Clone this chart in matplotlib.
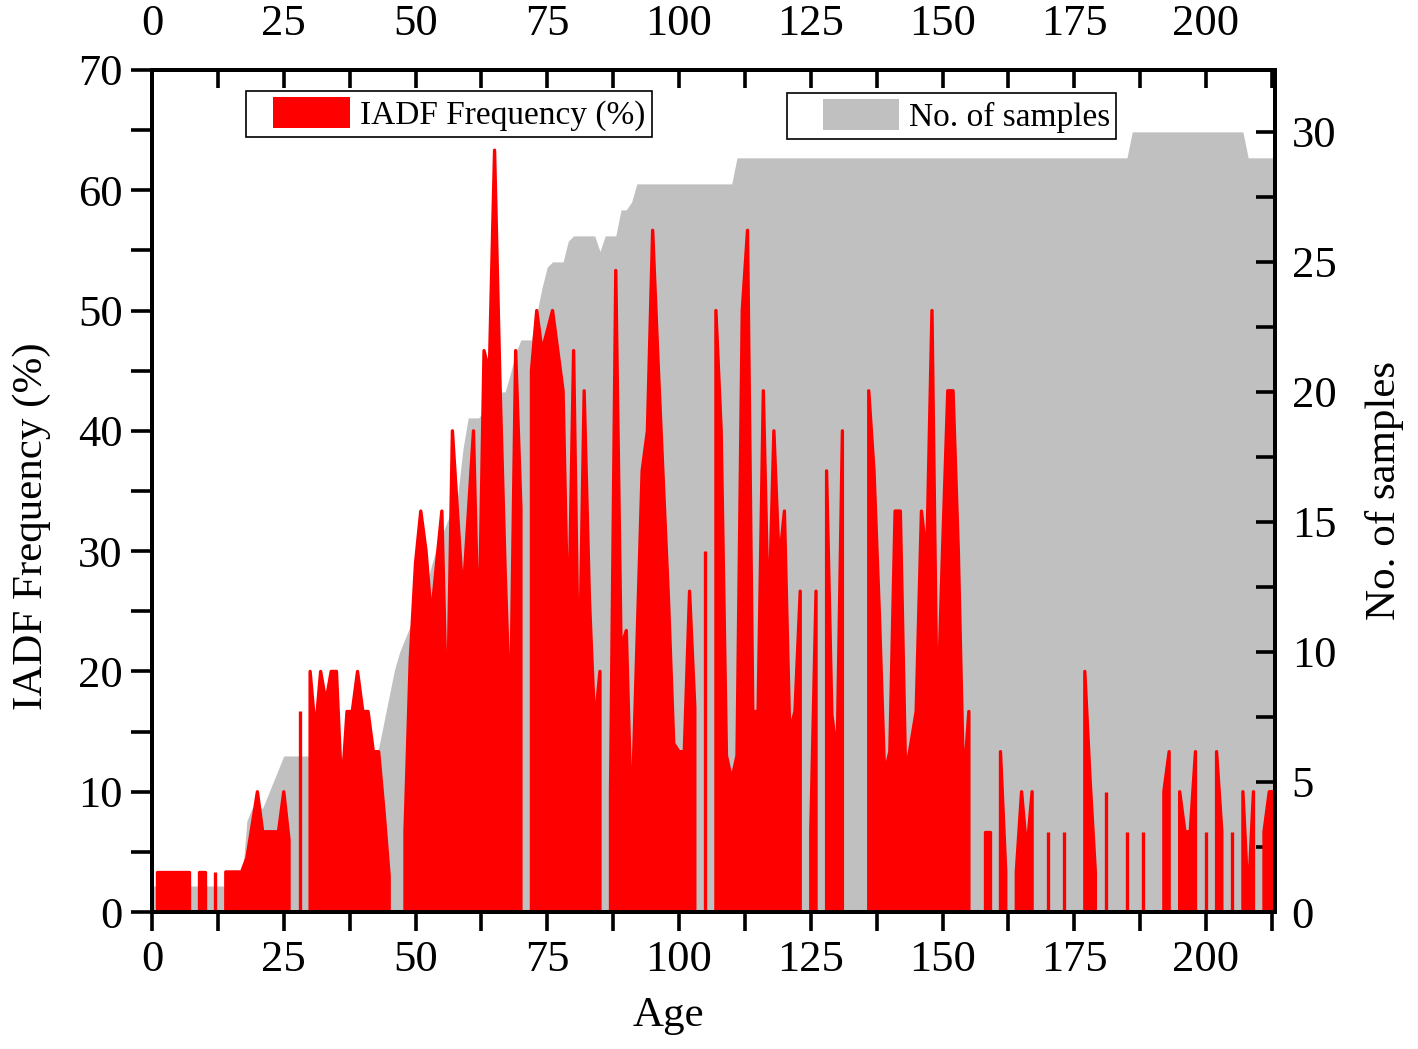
import numpy as np
import matplotlib
matplotlib.use("Agg")
import matplotlib.pyplot as plt
from matplotlib.patches import Patch, Rectangle
from matplotlib.legend_handler import HandlerPatch
from matplotlib.ticker import MultipleLocator

plt.rcParams['font.family'] = ['Liberation Serif', 'DejaVu Serif']

nan = np.nan

# age (years), one value per year
age = np.arange(0, 214)

# IADF frequency (%), nan = no value (gap in the area)
iadf = [
    nan, 3.33, 3.33, 3.33, 3.33, 3.33, 3.33, 3.33, nan, 3.33,        # 0-9
    3.33, nan, 3.33, nan, 3.33, 3.33, 3.33, 3.33, 4.5, 7.2,          # 10-19
    10, 6.67, 6.67, 6.67, 6.67, 10, 6.0, nan, 16.67, nan,             # 20-29
    20, 15, 20, 17.5, 20, 20, 10, 16.67, 16.67, 20,                   # 30-39
    16.67, 16.67, 13.33, 13.33, 8.5, 3.0, nan, nan, 6.67, 21,         # 40-49
    29, 33.33, 30, 24.5, 29, 33.33, 15, 40, 33, 26.2,                 # 50-59
    33, 40, 21.8, 46.67, 44.9, 63.33, 44.5, 28.5, 15.5, 46.67,        # 60-69
    33.6, nan, 45, 50, 46.67, 48.3, 50, 46.67, 43.33, 22.3,           # 70-79
    46.67, 17.2, 43.33, 26, 15.5, 20, nan, 10, 53.33, 22,             # 80-89
    23.4, 7.2, 22, 36.67, 40, 56.67, 46, 36, 26, 14,                  # 90-99
    13.33, 13.33, 26.67, 17, nan, 30, nan, 50, 40, 13,                # 100-109
    11, 13, 50, 56.67, 16.67, 16.67, 43.33, 23.5, 40, 29,             # 110-119
    33.33, 15, 16.67, 26.67, nan, 6.67, 26.67, nan, 36.67, 16.4,      # 120-129
    13, 40, nan, nan, nan, nan, 43.33, 36.67, 25, 11.5,               # 130-139
    13.33, 33.33, 33.33, 11.5, 14, 16.67, 33.33, 29.4, 50, 15.5,      # 140-149
    30, 43.33, 43.33, 30, 10.5, 16.67, nan, nan, 6.67, 6.67,          # 150-159
    nan, 13.33, 3.33, nan, 3.33, 10, 5, 10, nan, nan,                 # 160-169
    6.67, nan, nan, 6.67, nan, nan, nan, 20, 11, 3.33,                # 170-179
    nan, 10, nan, nan, nan, 6.67, nan, nan, 6.67, nan,                # 180-189
    nan, nan, 10, 13.33, nan, 10, 6.67, 6.67, 13.33, nan,             # 190-199
    6.67, nan, 13.33, 6.67, nan, 6.67, nan, 10, 1, 10,                # 200-209
    nan, 6.67, 10, 10,                                                # 210-213
]

# number of samples (right axis)
samples = (
    [1] * 18 +                                                        # 0-17
    [3.5, 4, 4, 4, 4.5, 5, 5.5] +                                     # 18-24
    [6] * 18 +                                                        # 25-42
    [6.3, 7.3, 8.3, 9.3, 10, 10.5, 11, 11.5, 12, 12.5,                # 43-52
     13.3, 14, 14.5, 15, 15.5, 16, 17.8, 19, 19, 19,                  # 53-62
     19.3, 19.6, 19.8, 20, 20, 20.7, 21.5, 22, 22, 22,                # 63-72
     23, 24, 24.8, 25, 25, 25, 25.8] +                                # 73-79
    [26] * 5 + [25.4] + [26] * 3 +                                    # 80-88
    [27, 27, 27.3] +                                                  # 89-91
    [28] * 19 +                                                       # 92-110
    [29] * 75 +                                                       # 111-185
    [30] * 22 +                                                       # 186-207
    [29] * 6                                                          # 208-213
)

red = '#ff0000'
grey = '#c0c0c0'

fig = plt.figure(figsize=(14.18, 10.49), dpi=100)
ax = fig.add_axes([0.1072, 0.1306, 0.7920, 0.8027])
ax2 = ax.twinx()
ax.set_zorder(ax2.get_zorder() + 1)
ax.patch.set_visible(False)

ax2.fill_between(age, samples, 0, color=grey, lw=0)
ax.fill_between(age, np.array(iadf, dtype=float), 0, facecolor=red,
                edgecolor=red, lw=2.4)

ax.set_xlim(0, 213.1)
ax.set_ylim(0, 70)
ax2.set_ylim(0, 32.38)

ax.xaxis.set_major_locator(MultipleLocator(25))
ax.xaxis.set_minor_locator(MultipleLocator(12.5))
ax.yaxis.set_major_locator(MultipleLocator(10))
ax.yaxis.set_minor_locator(MultipleLocator(5))
ax2.yaxis.set_major_locator(MultipleLocator(5))
ax2.yaxis.set_minor_locator(MultipleLocator(2.5))

fs_tick = 32
ax.tick_params(axis='x', which='both', direction='out', length=14, width=2.6,
               labelsize=fs_tick, pad=6, top=False)
ax.tick_params(axis='y', which='both', direction='out', length=15, width=2.6,
               labelsize=fs_tick, pad=6, right=False)
ax2.tick_params(axis='y', which='both', direction='in', length=14, width=2.6,
                labelsize=fs_tick, pad=12)

top = ax.secondary_xaxis('top')
top.xaxis.set_major_locator(MultipleLocator(25))
top.xaxis.set_minor_locator(MultipleLocator(12.5))
top.tick_params(axis='x', which='both', direction='in', length=13, width=2.6,
                labelsize=fs_tick, pad=19)

for a in (ax, ax2):
    for s in a.spines.values():
        s.set_linewidth(2.8)
top.spines['top'].set_linewidth(2.8)

ax.set_xlabel('Age', fontsize=31)
ax.xaxis.set_label_coords(0.4595, -0.100)
ax.set_ylabel('IADF Frequency (%)', fontsize=31)
ax.yaxis.set_label_coords(-0.090, 0.458)
ax2.set_ylabel('No. of samples', fontsize=31)
ax2.yaxis.set_label_coords(1.080, 0.5)


def offset_handler(offset):
    def make(legend, orig_handle, xdescent, ydescent, width, height, fontsize):
        return Rectangle((-xdescent + offset, -ydescent), width - offset, height)
    return HandlerPatch(patch_func=make)


leg_kw = dict(loc='upper left', fontsize=24, frameon=True, fancybox=False,
              framealpha=1, edgecolor='black', borderpad=0.18,
              borderaxespad=0, handleheight=1.05, handletextpad=0.3)

h1 = Patch(facecolor=red, edgecolor='none')
leg1 = ax.legend([h1], ['IADF Frequency (%)'], bbox_to_anchor=(0.0837, 0.975),
                 handlelength=2.95, handler_map={h1: offset_handler(15)},
                 **leg_kw)
leg1.get_frame().set_linewidth(1.2)
ax.add_artist(leg1)

h2 = Patch(facecolor=grey, edgecolor='none')
leg2 = ax.legend([h2], ['No. of samples'], bbox_to_anchor=(0.565, 0.973),
                 handlelength=3.2, handler_map={h2: offset_handler(22)},
                 **leg_kw)
leg2.get_frame().set_linewidth(1.2)

fig.savefig('out.png', dpi=100)
